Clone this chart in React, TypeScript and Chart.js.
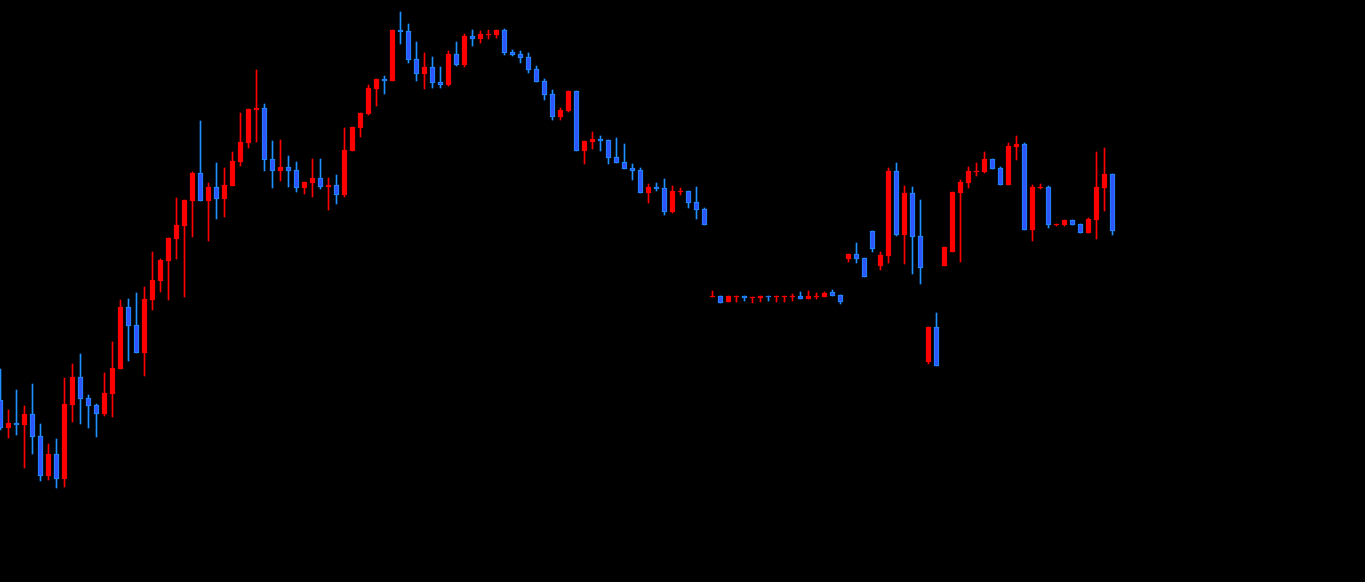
import React, { useEffect, useRef } from "react";
import { Chart, registerables } from "chart.js";

Chart.register(...registerables);

// Price levels (one entry per session)
const openPrices = [182,154,159,157,168,146,106,128,103,177,205,184,177,168,188,213,275,257,229,282,301,321,343,356,381,409,381,395,383,396,420,439,472,474,423,411,415,412,394,399,404,395,397,387,431,454,468,493,503,501,552,551,523,508,515,500,497,528,517,546,543,547,547,552,530,528,525,513,501,488,465,471,491,431,440,443,442,425,420,414,412,389,395,394,370,390,391,380,373,285,286,280,285,286,284,284,286,285,285,285,286,283,285,285,290,287,323,328,324,351,316,326,411,347,389,346,220,255,316,330,389,399,410,410,423,414,397,435,438,352,394,395,357,357,362,358,349,362,394,408];
const highPrices = [213,172,192,176,198,158,138,143,204,218,228,187,178,209,240,282,283,289,295,330,323,344,384,382,410,461,399,419,414,430,469,473,512,478,441,442,426,420,400,423,423,404,407,454,455,469,497,503,506,552,570,558,540,529,525,515,531,540,548,552,551,552,552,553,532,531,529,516,503,492,474,491,491,441,450,446,442,444,438,418,414,398,399,403,396,394,391,395,374,291,286,286,286,286,285,286,286,286,286,288,290,291,289,290,292,287,328,339,324,351,330,414,419,396,395,382,255,269,335,390,402,415,419,430,423,415,439,446,439,397,398,396,358,362,362,358,364,430,434,408];
const lowPrices = [152,144,147,114,128,101,102,94,95,160,158,154,145,166,165,213,221,229,206,272,290,282,323,285,345,381,341,363,365,396,416,434,440,411,394,401,395,390,388,385,393,372,378,385,431,445,467,476,488,501,538,519,501,493,494,494,496,516,515,536,539,543,544,527,526,519,509,500,482,462,462,470,431,418,433,431,418,419,413,402,389,379,391,367,369,387,374,363,357,285,279,280,280,281,279,280,281,280,280,281,283,283,283,285,286,278,320,319,305,330,312,319,346,318,308,298,218,216,316,330,320,394,406,409,413,397,397,422,352,341,393,354,356,356,357,349,349,343,371,347];
const closePrices = [154,159,157,168,145,106,128,103,178,205,183,176,168,189,214,275,256,229,283,302,322,344,357,382,409,381,395,383,397,421,440,473,474,422,411,415,411,394,400,404,395,397,387,432,455,469,494,503,501,552,550,522,508,515,499,497,528,517,546,543,548,548,552,529,527,524,512,500,487,465,472,491,431,441,443,441,424,419,413,411,389,395,393,370,391,391,379,372,357,286,279,286,286,284,285,286,285,286,286,286,283,286,286,289,286,280,328,323,305,333,327,411,347,389,345,314,255,216,335,390,400,411,411,423,413,397,436,438,352,395,395,357,358,362,357,349,363,395,408,351];

const UP_COLOR = "#ff0000";
const DOWN_FILL = "#2f55ff";
const DOWN_EDGE = "#1e90ff";

export default function App() {
  const canvasRef = useRef<HTMLCanvasElement | null>(null);

  useEffect(() => {
    if (!canvasRef.current) return;
    const n = openPrices.length;
    const up = openPrices.map((o, i) => closePrices[i] >= o);
    const bodies = openPrices.map((o, i) => ({ x: i, y: [o, closePrices[i]] }));
    const wicks = lowPrices.map((l, i) => ({ x: i, y: [l, highPrices[i]] }));

    const chart = new Chart(canvasRef.current, {
      type: "bar",
      data: {
        datasets: [
          {
            label: "body",
            data: bodies as any,
            grouped: false,
            barThickness: 5,
            minBarLength: 1,
            backgroundColor: up.map((u) => (u ? UP_COLOR : DOWN_FILL)),
            borderColor: up.map((u) => (u ? UP_COLOR : DOWN_EDGE)),
            borderWidth: 1,
            borderSkipped: false,
          } as any,
          {
            label: "wick",
            data: wicks as any,
            grouped: false,
            barThickness: 1,
            minBarLength: 1,
            backgroundColor: up.map((u) => (u ? UP_COLOR : DOWN_EDGE)),
            borderWidth: 0,
          } as any,
        ],
      },
      options: {
        animation: false,
        responsive: false,
        maintainAspectRatio: false,
        layout: { padding: 0 },
        plugins: { legend: { display: false }, tooltip: { enabled: false } },
        scales: {
          x: {
            type: "linear",
            display: false,
            min: -0.0625,
            max: -0.0625 + 1365 / 8,
            offset: false,
          },
          y: {
            type: "linear",
            display: false,
            min: 0,
            max: 582,
          },
        },
      },
    });
    void n;
    return () => chart.destroy();
  }, []);

  return (
    <div
      style={{
        position: "fixed",
        left: 0,
        top: 0,
        width: 1365,
        height: 582,
        background: "#000000",
        overflow: "hidden",
      }}
    >
      <canvas
        ref={canvasRef}
        width={1365}
        height={582}
        style={{ display: "block", width: 1365, height: 582 }}
      />
    </div>
  );
}
